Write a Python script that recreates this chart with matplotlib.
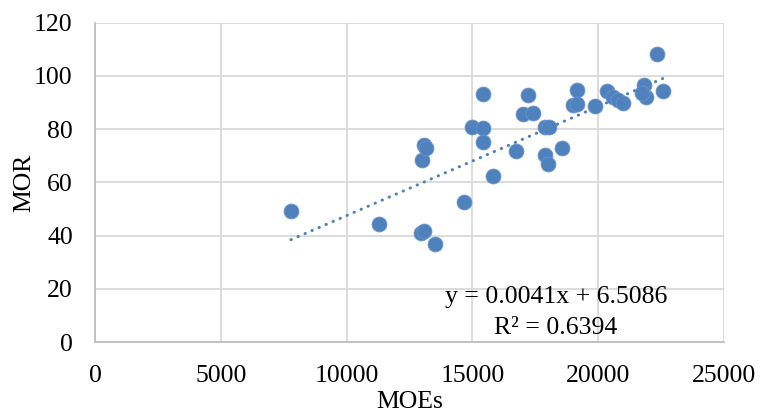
import numpy as np
import matplotlib.pyplot as plt

plt.rcParams['font.family'] = ['Liberation Serif', 'DejaVu Serif']

moe = [7790, 11290, 12940, 13080, 13510, 14680, 12985, 13080, 13150,
       15430, 14980, 15430, 15410, 15800, 16720, 17020, 17220, 22320,
       17420, 17885, 18060, 17885, 18020, 18550, 19170, 19000, 19150,
       19870, 20360, 20600, 20800, 21000, 21820, 21890, 21730, 22560]
mor = [49.2, 44.4, 40.9, 41.8, 36.7, 52.6, 68.4, 73.9, 73.0,
       93.3, 80.7, 80.3, 75.2, 62.3, 71.8, 85.6, 92.9, 108.2,
       86.0, 80.7, 80.7, 70.3, 66.9, 72.8, 94.7, 88.9, 89.5,
       88.6, 94.4, 92.2, 91.0, 89.7, 96.6, 92.2, 93.5, 94.4]
slope = 0.0041
intercept = 6.5086
r2 = 0.6394

fig = plt.figure(figsize=(7.61, 4.15), dpi=100)
ax = fig.add_axes([0.1248, 0.1759, 0.8266, 0.7694])

blue = '#4F81BD'
ax.scatter(moe, mor, s=115, color=blue, edgecolor='#6a95cc', linewidth=0.6, zorder=3)

xt = np.array([min(moe), max(moe)])
ax.plot(xt, slope * xt + intercept, color=blue, lw=2.2,
        linestyle=(0, (0.1, 2.4)), dash_capstyle='round', zorder=4)

fs = 18.5
ax.text(18320, 16.9, f'y = {slope}x + {intercept}', fontsize=fs, ha='center', va='center')
ax.text(18320, 5.3, f'R² = {r2}', fontsize=fs, ha='center', va='center')

ax.set_xlim(0, 25000)
ax.set_ylim(0, 120)
ax.set_xticks(range(0, 25001, 5000))
ax.set_yticks(range(0, 121, 20))
ax.grid(color='#D9D9D9', lw=1.3)
ax.set_axisbelow(True)
for s in ['top', 'right']:
    ax.spines[s].set_visible(False)
for s in ['left', 'bottom']:
    ax.spines[s].set_color('#BFBFBF')
    ax.spines[s].set_linewidth(1.3)
ax.tick_params(length=0, labelsize=fs)
ax.tick_params(axis='y', pad=16)
ax.tick_params(axis='x', pad=16.5)
ax.set_xlabel('MOEs', fontsize=fs, labelpad=3)
ax.set_ylabel('MOR', fontsize=fs, labelpad=-1)

fig.savefig('out.png', dpi=100)
